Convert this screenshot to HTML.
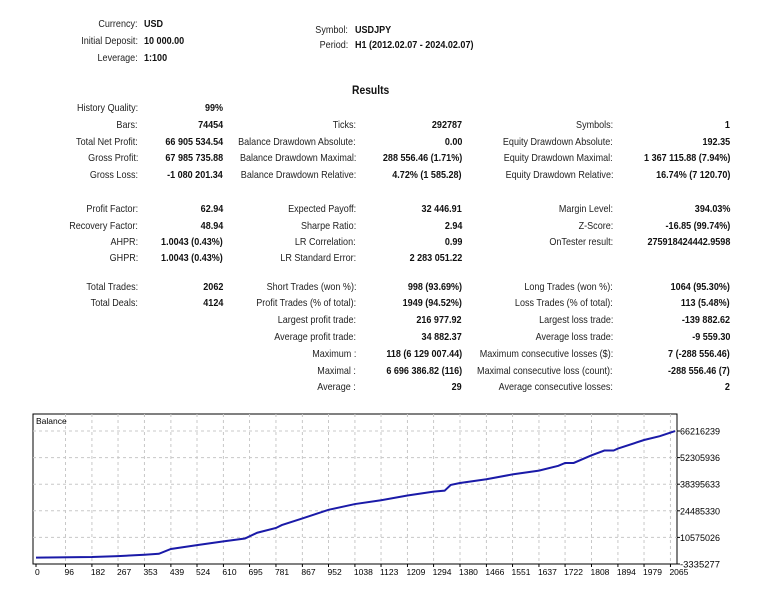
<!DOCTYPE html>
<html><head><meta charset="utf-8"><style>
body{margin:0;width:768px;height:600px;background:#fff;font-family:"Liberation Sans",sans-serif;font-size:10.5px;color:#222;position:relative;overflow:hidden}
.t{position:absolute;white-space:nowrap;line-height:12px;transform:scaleX(.86);transform-origin:0 50%}
.r{transform-origin:100% 50%}
.b{font-weight:bold;color:#111}
</style></head><body>
<div class="t r" style="right:630px;top:18px">Currency:</div>
<div class="t b" style="left:144px;top:18px">USD</div>
<div class="t r" style="right:630px;top:35px">Initial Deposit:</div>
<div class="t b" style="left:144px;top:35px">10 000.00</div>
<div class="t r" style="right:630px;top:52px">Leverage:</div>
<div class="t b" style="left:144px;top:52px">1:100</div>
<div class="t r" style="right:420px;top:24px">Symbol:</div>
<div class="t b" style="left:355px;top:24px">USDJPY</div>
<div class="t r" style="right:420px;top:39px">Period:</div>
<div class="t b" style="left:355px;top:39px">H1 (2012.02.07 - 2024.02.07)</div>
<div class="t b" style="left:352px;top:84px;font-size:12px">Results</div>
<div id="stats"></div>
<svg id="chart" width="768" height="600" style="position:absolute;left:0;top:0"></svg>
<script>
const rows=[
[102,"History Quality:","99%"],
[119,"Bars:","74454","Ticks:","292787","Symbols:","1"],
[136,"Total Net Profit:","66 905 534.54","Balance Drawdown Absolute:","0.00","Equity Drawdown Absolute:","192.35"],
[152,"Gross Profit:","67 985 735.88","Balance Drawdown Maximal:","288 556.46 (1.71%)","Equity Drawdown Maximal:","1 367 115.88 (7.94%)"],
[169,"Gross Loss:","-1 080 201.34","Balance Drawdown Relative:","4.72% (1 585.28)","Equity Drawdown Relative:","16.74% (7 120.70)"],
[203,"Profit Factor:","62.94","Expected Payoff:","32 446.91","Margin Level:","394.03%"],
[220,"Recovery Factor:","48.94","Sharpe Ratio:","2.94","Z-Score:","-16.85 (99.74%)"],
[236,"AHPR:","1.0043 (0.43%)","LR Correlation:","0.99","OnTester result:","275918424442.9598"],
[252,"GHPR:","1.0043 (0.43%)","LR Standard Error:","2 283 051.22"],
[281,"Total Trades:","2062","Short Trades (won %):","998 (93.69%)","Long Trades (won %):","1064 (95.30%)"],
[297,"Total Deals:","4124","Profit Trades (% of total):","1949 (94.52%)","Loss Trades (% of total):","113 (5.48%)"],
[314,"","","Largest profit trade:","216 977.92","Largest loss trade:","-139 882.62"],
[331,"","","Average profit trade:","34 882.37","Average loss trade:","-9 559.30"],
[348,"","","Maximum :","118 (6 129 007.44)","Maximum consecutive losses ($):","7 (-288 556.46)"],
[365,"","","Maximal :","6 696 386.82 (116)","Maximal consecutive loss (count):","-288 556.46 (7)"],
[381,"","","Average :","29","Average consecutive losses:","2"]];
const edges=[138,223,356,462,613,730];
const st=document.getElementById('stats');
rows.forEach((r,i)=>{for(let c=1;c<r.length;c++){if(!r[c])continue;
const d=document.createElement('div');d.className='t r'+(c%2===0?' b':'');
d.style.right=(768-edges[c-1])+'px';d.style.top=r[0]+'px';d.textContent=r[c];


st.appendChild(d);}});

// chart data
const trades=[0,182,267,353,400,439,524,610,680,720,781,800,867,952,1038,1123,1209,1294,1330,1350,1380,1466,1551,1637,1700,1722,1750,1808,1850,1880,1894,1979,2030,2080];
const balance=[0.01,0.3,0.8,1.5,2.0,4.5,6.5,8.5,10,13,15.5,17,20.5,25,28,30,32.5,34.5,35,38,39,41,43.5,45.5,48,49.5,49.5,53.5,56,56,57,61.5,63.5,66.2];
const yTicks=[-3335277,10575026,24485330,38395633,52305936,66216239];
const xTicks=[0,96,182,267,353,439,524,610,695,781,867,952,1038,1123,1209,1294,1380,1466,1551,1637,1722,1808,1894,1979,2065];
const L=33,R=677,T=414,B=564;
const X=t=>36+t*(26.3/85.6);
const Y=v=>B-(v-(-3335277))/13910303*26.6;
const svg=document.getElementById('chart');const NS='http://www.w3.org/2000/svg';
function mk(tag,at){const e=document.createElementNS(NS,tag);for(const k in at)e.setAttribute(k,at[k]);svg.appendChild(e);return e;}
const fr=mk('rect',{x:L,y:T,width:R-L,height:B-T,fill:'#fff',stroke:'#000','stroke-width':1});


yTicks.forEach((v,i)=>{const y=Y(v);
if(i>0){const g=mk('line',{x1:L,x2:R,y1:y,y2:y,stroke:'#c8c8c8','stroke-dasharray':'3,3'});}
mk('line',{x1:R,x2:R+3,y1:y,y2:y,stroke:'#000'});
const tx=mk('text',{x:R+3,y:y+3.5,'font-size':'9','font-family':'Liberation Sans, sans-serif',fill:'#000',textLength:String(v).length*5,lengthAdjust:'spacingAndGlyphs'});tx.textContent=v;

});
xTicks.forEach(t=>{const x=X(t);
if(t>0){const g=mk('line',{x1:x,x2:x,y1:T,y2:B,stroke:'#c8c8c8','stroke-dasharray':'3,3'});}
mk('line',{x1:x,x2:x,y1:B,y2:B+3,stroke:'#000'});
const tx=mk('text',{x:x-1,y:B+11,'font-size':'8.5','font-family':'Liberation Sans, sans-serif',fill:'#000'});tx.textContent=t;

});
const pts=trades.map((t,i)=>X(t)+','+Y(balance[i]*1e6+10000)).join(' ');
const pl=mk('polyline',{points:pts,fill:'none',stroke:'#1a1aa8','stroke-width':2});


const lb=mk('text',{x:L+3,y:T+10,'font-size':'8.5','font-family':'Liberation Sans, sans-serif',fill:'#000'});lb.textContent='Balance';


</script>
</body></html>
